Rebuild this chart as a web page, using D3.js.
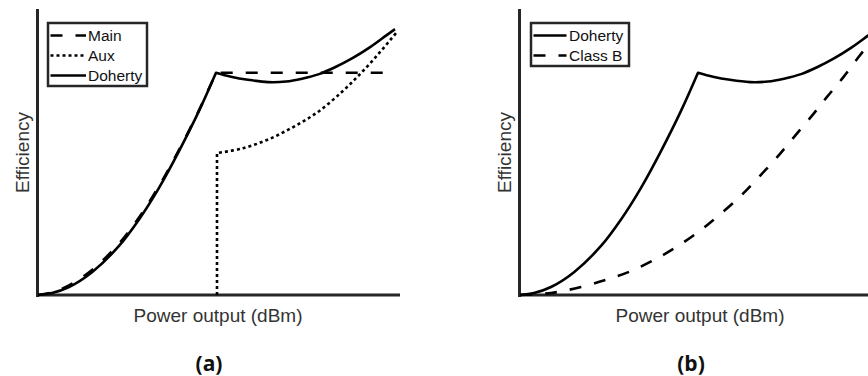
<!DOCTYPE html>
<html>
<head>
<meta charset="utf-8">
<script src="https://cdn.jsdelivr.net/npm/d3@7"></script>
<style>
  html, body { margin: 0; padding: 0; background: #fff; }
  svg { display: block; }
</style>
</head>
<body>
<svg id="chart" width="868" height="376"></svg>
<script>
// Output power (dBm, schematic) and drain efficiency (%) for each amplifier curve
const dohertyPower = [0, 1.4, 3.1, 5.4, 8.1, 10.1, 12.1, 14.1, 16.1, 17.8, 19.3, 21.0, 23.0, 24.8, 26.4, 28.1, 29.7, 31.4, 33.1, 34.8, 35.7];
const dohertyEff   = [0, 0.7, 2.8, 8.0, 17.2, 26.5, 37.6, 50.5, 64.6, 78.0, 76.6, 75.5, 74.7, 74.9, 75.9, 77.5, 79.9, 83.0, 86.7, 91.0, 93.3];

const mainPower = [0, 1.5, 3.1, 5.4, 8.1, 10.1, 12.1, 14.1, 16.1, 17.8, 35.0];
const mainEff   = [0, 1.0, 3.4, 8.8, 18.0, 27.2, 38.2, 50.9, 64.8, 78.0, 78.0];

const auxPower = [17.9, 17.9, 20.4, 22.9, 25.4, 27.9, 30.4, 32.2, 33.9, 35.4, 35.9];
const auxEff   = [0, 49.8, 51.4, 54.4, 58.7, 64.0, 71.3, 77.5, 84.0, 90.2, 92.3];

const classBPower = [0, 3.1, 6.1, 8.6, 10.9, 13.4, 15.4, 17.7, 19.7, 21.9, 23.7, 25.6, 27.2, 29.1, 30.7, 32.4, 33.9, 34.8, 35.9];
const classBEff   = [0, 0.7, 2.8, 5.3, 8.1, 12.3, 16.3, 21.8, 27.4, 34.2, 40.7, 47.9, 54.6, 62.5, 69.5, 76.7, 83.7, 87.7, 93.0];

const panelASeries = ['Main', 'Aux', 'Doherty'];
const panelBSeries = ['Doherty', 'Class B'];
const xTitle = 'Power output (dBm)';
const yTitle = 'Efficiency';
const captions = ['(a)', '(b)'];

const zip = (p, e) => p.map((v, i) => ({ p: v, e: e[i] }));
const seriesData = {
  'Main': zip(mainPower, mainEff),
  'Aux': zip(auxPower, auxEff),
  'Doherty': zip(dohertyPower, dohertyEff),
  'Class B': zip(classBPower, classBEff)
};
const dashes = { 'Main': '12,13', 'Aux': '3,3', 'Doherty': null, 'Class B': '12,13' };

const AXIS = '#262626';
const LINE_W = 2.6;
const plotTop = 10, plotBottom = 295, plotW = 360;
const svg = d3.select('#chart');
const y = d3.scaleLinear().domain([0, 100]).range([plotBottom, plotTop]);

// Build one continuous path; split at sharp turns so kinks stay sharp
function pathFor(pts, x) {
  const px = pts.map(d => [x(d.p), y(d.e)]);
  const pieces = [];
  let cur = [px[0]];
  for (let i = 1; i < px.length; i++) {
    cur.push(px[i]);
    if (i < px.length - 1) {
      const a1 = Math.atan2(px[i][1] - px[i - 1][1], px[i][0] - px[i - 1][0]);
      const a2 = Math.atan2(px[i + 1][1] - px[i][1], px[i + 1][0] - px[i][0]);
      let d = Math.abs(a2 - a1);
      if (d > Math.PI) d = 2 * Math.PI - d;
      if (d > 0.6) { pieces.push(cur); cur = [px[i]]; }
    }
  }
  pieces.push(cur);
  const smooth = d3.line().curve(d3.curveCatmullRom.alpha(0.5));
  const straight = d3.line();
  return pieces.map((pc, i) => {
    const s = pc.length > 2 ? smooth(pc) : straight(pc);
    return i ? s.replace(/^M/, 'L') : s;
  }).join('');
}

function drawPanel(x0, names, legend, caption) {
  const x = d3.scaleLinear().domain([0, 36]).range([x0, x0 + plotW]);
  const g = svg.append('g');

  // axes (no ticks)
  g.append('g').attr('transform', `translate(0,${plotBottom - 0.5})`)
    .call(d3.axisBottom(x).tickValues([]).tickSizeOuter(0));
  g.append('g').attr('transform', `translate(${x0 - 1},0)`)
    .call(d3.axisLeft(y).tickValues([]).tickSizeOuter(0));
  g.selectAll('.domain').attr('stroke', AXIS).attr('stroke-width', 3).attr('stroke-linecap', 'square');

  // curves
  names.forEach(n => {
    g.append('path')
      .attr('d', pathFor(seriesData[n], x))
      .attr('fill', 'none')
      .attr('stroke', '#000')
      .attr('stroke-width', LINE_W)
      .attr('stroke-dasharray', dashes[n])
      .attr('stroke-linejoin', 'round');
  });

  // axis titles
  g.append('text')
    .attr('x', x0 + plotW / 2).attr('y', 321.5)
    .attr('text-anchor', 'middle')
    .attr('font-family', '"Liberation Sans", Arial, sans-serif')
    .attr('font-size', 19).attr('fill', '#333')
    .text(xTitle);
  g.append('text')
    .attr('transform', `translate(${x0 - 9},${(plotTop + plotBottom) / 2}) rotate(-90)`)
    .attr('text-anchor', 'middle')
    .attr('font-family', '"Liberation Sans", Arial, sans-serif')
    .attr('font-size', 19).attr('fill', '#333')
    .text(yTitle);

  // sub-figure caption
  g.append('text')
    .attr('x', x0 + 171).attr('y', 371)
    .attr('text-anchor', 'middle')
    .attr('font-family', '"Open Sans", "DejaVu Sans", sans-serif')
    .attr('font-weight', 700)
    .attr('font-size', 21).attr('fill', '#111')
    .text(caption);

  // legend
  const lg = g.append('g').attr('transform', `translate(${x0 + legend.dx},23)`);
  lg.append('rect')
    .attr('width', legend.w).attr('height', names.length * 20 + 3)
    .attr('fill', '#fff').attr('stroke', AXIS).attr('stroke-width', 2.5);
  names.forEach((n, i) => {
    const cy = 12.5 + i * 20;
    lg.append('line')
      .attr('x1', 2.5).attr('x2', 2.5 + legend.sample)
      .attr('y1', cy).attr('y2', cy)
      .attr('stroke', '#000').attr('stroke-width', LINE_W)
      .attr('stroke-dasharray', dashes[n]);
    lg.append('text')
      .attr('x', legend.textX).attr('y', cy + 5)
      .attr('font-family', '"Liberation Sans", Arial, sans-serif')
      .attr('font-size', 15.5).attr('fill', '#111')
      .text(n);
  });
}

drawPanel(38, panelASeries, { dx: 10, w: 99, sample: 35.5, textX: 40 }, captions[0]);
drawPanel(520, panelBSeries, { dx: 11, w: 98, sample: 33, textX: 38 }, captions[1]);
</script>
</body>
</html>
